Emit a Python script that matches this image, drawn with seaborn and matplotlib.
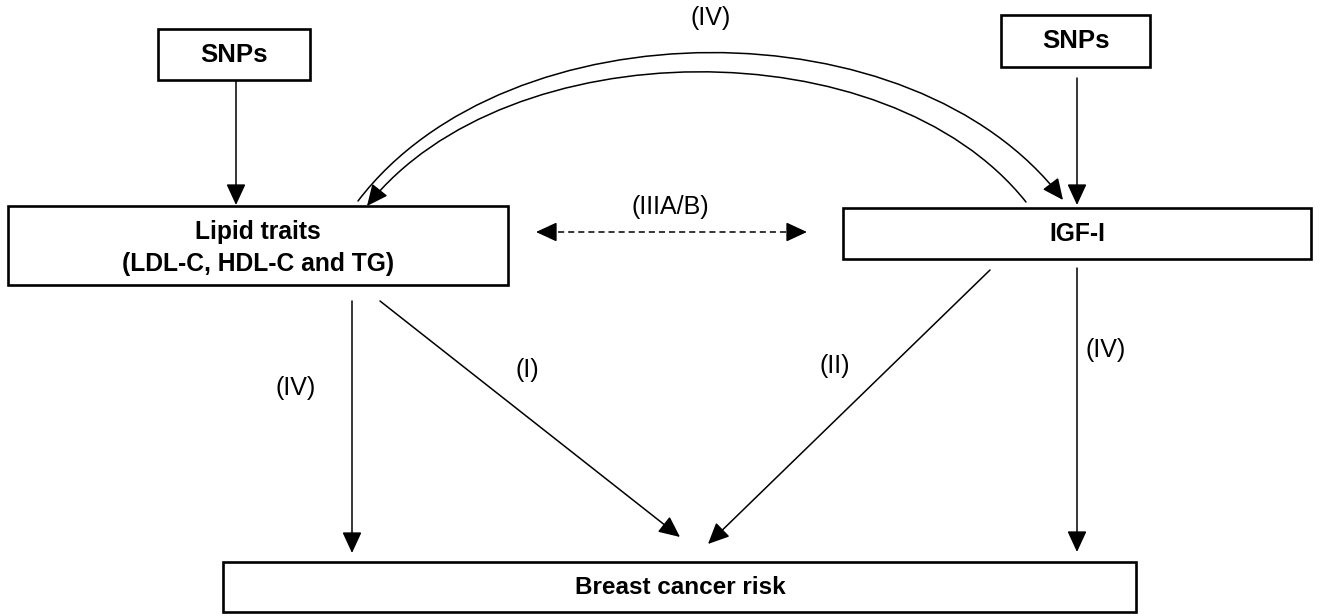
import matplotlib
matplotlib.use("Agg")
import matplotlib.pyplot as plt
import seaborn as sns
from matplotlib.patches import Rectangle, FancyArrowPatch, ArrowStyle
from matplotlib.path import Path

# ---- content ----
box_names = ["snp_left", "snp_right", "lipid", "igf", "cancer"]
box_texts = ["SNPs", "SNPs", "Lipid traits\n(LDL-C, HDL-C and TG)", "IGF-I", "Breast cancer risk"]
path_labels = ["(IV)", "(IIIA/B)", "(IV)", "(I)", "(II)", "(IV)"]

# ---- layout (pixel space, y downward) ----
box_geom = {
    "snp_left": (158, 29, 310, 80),
    "snp_right": (1001, 15, 1150, 67),
    "lipid": (8, 206, 508, 285),
    "igf": (843, 208, 1311, 259),
    "cancer": (223, 562, 1136, 612),
}
box_text_pos = {
    "snp_left": (234, 55, 18.5),
    "snp_right": (1076, 41, 18.5),
    "lipid": (258, 248, 17.7),
    "igf": (1077, 234, 17.7),
    "cancer": (680, 587, 17.5),
}
label_pos = [(711, 18), (670, 207), (296, 388), (527, 370), (835, 366), (1106, 350)]

straight_arrows = [
    ((236, 81), (236, 205)),
    ((1077, 78), (1077, 205)),
    ((352, 301), (352, 553)),
    ((380, 301), (680, 537)),
    ((990, 270), (708, 544)),
    ((1077, 268), (1077, 552)),
]

sns.set_theme(style="white")
plt.rcParams["font.family"] = ["Liberation Sans", "DejaVu Sans"]

fig = plt.figure(figsize=(13.22, 6.16), dpi=100)
ax = fig.add_axes([0, 0, 1, 1])
ax.set_xlim(0, 1322)
ax.set_ylim(616, 0)
ax.axis("off")

head = ArrowStyle("-|>", head_length=13, head_width=6)
lw_arrow = 1.1

for name, txt in zip(box_names, box_texts):
    x0, y0, x1, y1 = box_geom[name]
    ax.add_patch(Rectangle((x0, y0), x1 - x0, y1 - y0, fill=False,
                           edgecolor="black", linewidth=1.9))
    tx, ty, fs = box_text_pos[name]
    ax.text(tx, ty, txt, ha="center", va="center", fontsize=fs,
            fontweight="bold", linespacing=1.4, color="black")

for (pa, pb) in straight_arrows:
    ax.add_patch(FancyArrowPatch(pa, pb, arrowstyle=head, mutation_scale=1,
                                 shrinkA=0, shrinkB=0, color="black",
                                 linewidth=lw_arrow))

# curved arrows (IV)
def curve(p0, p3, a, h):
    verts = [p0, (p0[0] + a, p0[1] - h), (p3[0] - a, p3[1] - h), p3]
    return Path(verts, [Path.MOVETO, Path.CURVE4, Path.CURVE4, Path.CURVE4])

outer = curve((358, 201), (1063, 200), 150, 197)
inner_verts = [(1026, 202), (1026 - 140, 202 - 176), (367 + 140, 206 - 176), (367, 206)]
inner = Path(inner_verts, [Path.MOVETO, Path.CURVE4, Path.CURVE4, Path.CURVE4])
for p in (outer, inner):
    ax.add_patch(FancyArrowPatch(path=p, arrowstyle=head, mutation_scale=1,
                                 shrinkA=0, shrinkB=0, color="black",
                                 linewidth=lw_arrow))

# dashed double arrow (IIIA/B)
ax.plot([548, 795], [232, 232], color="black", linewidth=1.1,
        linestyle=(0, (4, 2.6)))
ax.add_patch(FancyArrowPatch((552, 232), (536, 232), arrowstyle=head,
                             mutation_scale=1, shrinkA=0, shrinkB=0,
                             color="black", linewidth=lw_arrow))
ax.add_patch(FancyArrowPatch((791, 232), (807, 232), arrowstyle=head,
                             mutation_scale=1, shrinkA=0, shrinkB=0,
                             color="black", linewidth=lw_arrow))

for txt, (x, y) in zip(path_labels, label_pos):
    ax.text(x, y, txt, ha="center", va="center", fontsize=18, color="black")

fig.savefig("out.png", dpi=100, facecolor="white")
